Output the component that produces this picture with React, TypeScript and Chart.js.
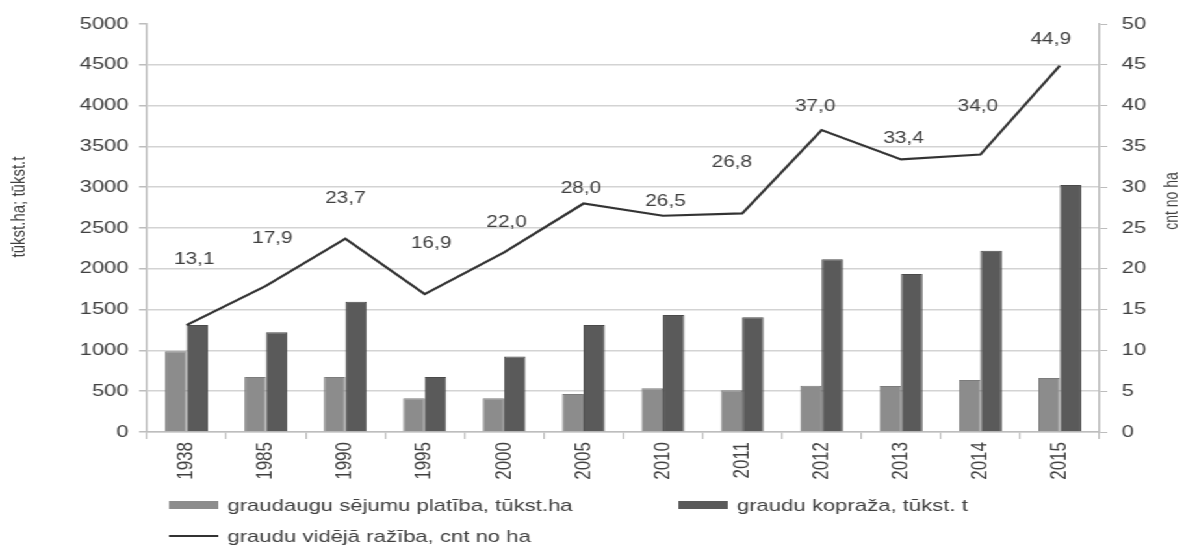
import React, { useEffect, useRef } from 'react';
import { Chart, registerables } from 'chart.js';

Chart.register(...registerables);

// ---- data ----
const years = ['1938', '1985', '1990', '1995', '2000', '2005', '2010', '2011', '2012', '2013', '2014', '2015'];
const sownArea = [990, 675, 675, 413, 415, 466, 535, 511, 567, 564, 637, 662];
const grainHarvest = [1311, 1222, 1597, 674, 925, 1311, 1434, 1405, 2116, 1936, 2222, 3027];
const grainYield = [13.1, 17.9, 23.7, 16.9, 22.0, 28.0, 26.5, 26.8, 37.0, 33.4, 34.0, 44.9];
const seriesLabels = [
  'graudaugu sējumu platība, tūkst.ha',
  'graudu kopraža, tūkst. t',
  'graudu vidējā ražība, cnt no ha',
];
const leftTitle = 'tūkst.ha; tūkst.t';
const rightTitle = 'cnt no ha';

// label nudges (style): px relative to each line point
const labelDx = [6, 5, 0, 5, 2, -2, 2, -8, -5, 2, -2, -7];
const labelDy = [-66, -47, -40, -51, -30, -15, -14, -51, -23, -21, -48, -26];

const FONT = 'Liberation Sans, Arial, sans-serif';
const TEXT = '#404040';
const AXIS = '#bdbdbd';
const GRID = '#d3d3d3';
const LIGHT = '#8c8c8c';
const DARK = '#5a5a5a';
const LINE = '#333333';

const W = 911;
const H = 547;
const SX = 1184 / W;

const overlayPlugin = {
  id: 'overlay',
  afterDatasetsDraw(chart: any) {
    const ctx = chart.ctx;
    ctx.save();
    const meta = chart.getDatasetMeta(2);
    ctx.font = `16px ${FONT}`;
    ctx.fillStyle = TEXT;
    ctx.textAlign = 'center';
    ctx.textBaseline = 'middle';
    meta.data.forEach((el: any, i: number) => {
      const v = grainYield[i];
      ctx.fillText(v.toFixed(1).replace('.', ','), el.x + labelDx[i], el.y + labelDy[i]);
    });
    ctx.restore();
  },
  afterDraw(chart: any) {
    const ctx = chart.ctx;
    const ds = chart.data.datasets;
    ctx.save();
    ctx.fillStyle = TEXT;
    ctx.textAlign = 'center';
    ctx.textBaseline = 'middle';
    ctx.save();
    ctx.translate(14.5, 207);
    ctx.rotate(-Math.PI / 2);
    ctx.font = `15px ${FONT}`;
    ctx.fillText(leftTitle, 0, 0);
    ctx.restore();
    ctx.save();
    ctx.translate(chart.width - 9, 201);
    ctx.rotate(-Math.PI / 2);
    ctx.font = `14px ${FONT}`;
    ctx.fillText(rightTitle, 0, 0);
    ctx.restore();

    const items = [
      { i: 0, x: 130, y: 505, kind: 'box' },
      { i: 1, x: 522, y: 505, kind: 'box' },
      { i: 2, x: 130, y: 536, kind: 'line' },
    ];
    ctx.font = `17px ${FONT}`;
    ctx.textAlign = 'left';
    items.forEach((it) => {
      const d = ds[it.i];
      if (it.kind === 'box') {
        ctx.fillStyle = d.backgroundColor;
        ctx.fillRect(it.x, it.y - 4, 38, 8);
      } else {
        ctx.strokeStyle = d.borderColor;
        ctx.lineWidth = 2.2;
        ctx.beginPath();
        ctx.moveTo(it.x, it.y);
        ctx.lineTo(it.x + 38, it.y);
        ctx.stroke();
      }
      ctx.fillStyle = TEXT;
      ctx.fillText(d.label, it.x + 45, it.y + 1);
    });
    ctx.restore();
  },
};

export default function App() {
  const ref = useRef<HTMLCanvasElement | null>(null);

  useEffect(() => {
    if (!ref.current) return;
    const chart = new Chart(ref.current, {
      type: 'bar',
      data: {
        labels: years,
        datasets: [
          {
            type: 'bar',
            label: seriesLabels[0],
            data: sownArea,
            backgroundColor: LIGHT,
            borderColor: '#7c7c7c',
            borderWidth: 1,
            yAxisID: 'y',
            order: 1,
            categoryPercentage: 0.54,
            barPercentage: 1.0,
          },
          {
            type: 'bar',
            label: seriesLabels[1],
            data: grainHarvest,
            backgroundColor: DARK,
            borderColor: '#4a4a4a',
            borderWidth: 1,
            yAxisID: 'y',
            order: 2,
            categoryPercentage: 0.54,
            barPercentage: 1.0,
          },
          {
            type: 'line',
            label: seriesLabels[2],
            data: grainYield,
            borderColor: LINE,
            backgroundColor: LINE,
            borderWidth: 2.2,
            pointRadius: 0,
            tension: 0,
            yAxisID: 'y1',
            order: 0,
          },
        ] as any,
      },
      options: {
        responsive: false,
        animation: false,
        devicePixelRatio: 1,
        layout: { padding: { top: 24, bottom: 0, left: 0, right: 0 } },
        plugins: {
          legend: { display: false },
          tooltip: { enabled: false },
          title: { display: false },
        },
        scales: {
          x: {
            offset: true,
            grid: {
              display: true,
              drawOnChartArea: false,
              drawTicks: true,
              tickLength: 7,
              offset: true,
              color: AXIS,
              lineWidth: 1.2,
            },
            border: { display: true, color: AXIS, width: 1.5 },
            ticks: {
              autoSkip: false,
              maxRotation: 90,
              minRotation: 90,
              padding: 3,
              color: TEXT,
              font: { family: FONT, size: 17 },
            },
            afterFit: (s: any) => {
              s.height = 115;
            },
          },
          y: {
            position: 'left',
            min: 0,
            max: 5000,
            ticks: {
              stepSize: 500,
              padding: 8,
              color: TEXT,
              font: { family: FONT, size: 17 },
              callback: (v: any) => String(v),
            },
            grid: {
              color: (c: any) => (c.tick && c.tick.value === 5000 ? 'rgba(0,0,0,0)' : GRID),
              lineWidth: 1.5,
              tickLength: 6,
              tickColor: AXIS,
            },
            border: { display: true, color: AXIS, width: 1.5 },
            afterFit: (s: any) => {
              s.width = 113;
            },
          },
          y1: {
            position: 'right',
            min: 0,
            max: 50,
            ticks: {
              stepSize: 5,
              padding: 11,
              color: TEXT,
              font: { family: FONT, size: 17 },
              callback: (v: any) => String(v),
            },
            grid: {
              drawOnChartArea: false,
              tickLength: 6,
              tickColor: AXIS,
              color: AXIS,
            },
            border: { display: true, color: AXIS, width: 1.5 },
            afterFit: (s: any) => {
              s.width = W - 846;
            },
          },
        },
      } as any,
      plugins: [overlayPlugin],
    });
    return () => chart.destroy();
  }, []);

  return (
    <div
      style={{
        position: 'fixed',
        left: 0,
        top: 0,
        width: W,
        height: H,
        transform: `scaleX(${SX})`,
        transformOrigin: '0 0',
        background: '#fff',
      }}
    >
      <canvas ref={ref} width={W} height={H} style={{ display: 'block' }} />
    </div>
  );
}
